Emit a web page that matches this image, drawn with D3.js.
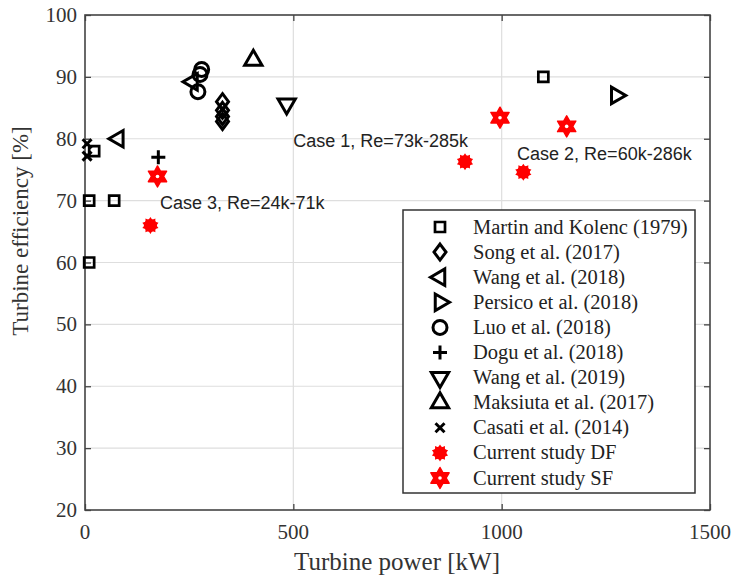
<!DOCTYPE html>
<head>
<meta charset="utf-8">
<title>Turbine efficiency vs power</title>
<style>
  body { margin: 0; background: #fff; }
  .tick-label { font: 21px "Liberation Serif", "Times New Roman", serif; fill: #333; }
  .axis-title { font: 23px "Liberation Serif", "Times New Roman", serif; fill: #333; }
  .legend-text { font: 20.5px "Liberation Serif", "Times New Roman", serif; fill: #222; }
  .note { font: 18px "Liberation Sans", Arial, sans-serif; fill: #222; }
</style>
</head>
<body>
<div id="chart"></div>
<script src="https://d3js.org/d3.v7.min.js"></script>
<script>

  // data: [power kW, efficiency %]
  var martin   = [[10, 60], [10, 70], [70, 70], [22, 78], [1100, 90]];
  var song     = [[330, 86], [330, 84.6], [330, 83.6], [330, 82.8]];
  var wang2018 = [[80, 80], [258, 89.2]];
  var persico  = [[1275, 87]];
  var luo      = [[280, 91.2], [276, 90.4], [271, 87.6]];
  var dogu     = [[176, 77]];
  var wang2019 = [[484, 85.6]];
  var maksiuta = [[404, 92.7]];
  var casati   = [[5, 79.2], [5, 77.2]];
  var currentDF = [[157, 66], [912, 76.3], [1052, 74.6]];
  var currentSF = [[174, 73.9], [996, 83.4], [1156, 82]];

  var xTicks = [0, 500, 1000, 1500];
  var yTicks = [20, 30, 40, 50, 60, 70, 80, 90, 100];

  var notes = [
    {text: "Case 1, Re=73k-285k", x: 500, y: 78.7},
    {text: "Case 2, Re=60k-286k", x: 1037, y: 76.6},
    {text: "Case 3, Re=24k-71k",  x: 180, y: 68.6}
  ];

  var width = 737, height = 577;
  var plotL = 85, plotR = 710, plotT = 15, plotB = 510;

  var x = d3.scaleLinear().domain([0, 1500]).range([plotL, plotR]);
  var y = d3.scaleLinear().domain([20, 100]).range([plotB, plotT]);

  var svg = d3.select("#chart").append("svg")
      .attr("width", width)
      .attr("height", height);

  //	Grid

  svg.append("g").selectAll("line")
      .data(xTicks.slice(1, -1))
      .enter().append("line")
      .attr("x1", function(d) { return x(d); })
      .attr("x2", function(d) { return x(d); })
      .attr("y1", plotT).attr("y2", plotB)
      .attr("stroke", "#dedede").attr("stroke-width", 1.2);

  svg.append("g").selectAll("line")
      .data(yTicks.slice(1, -1))
      .enter().append("line")
      .attr("y1", function(d) { return y(d); })
      .attr("y2", function(d) { return y(d); })
      .attr("x1", plotL).attr("x2", plotR)
      .attr("stroke", "#dedede").attr("stroke-width", 1.2);

  //	Axes (MATLAB box style, ticks pointing in on every side)

  var tk = 6;
  var axisColor = "#444";
  function tidy(g) {
    g.select(".domain").remove();
    g.selectAll("line").attr("stroke", axisColor).attr("stroke-width", 1.3);
  }
  svg.append("g").attr("transform", "translate(0," + plotB + ")")
      .call(d3.axisBottom(x).tickValues(xTicks).tickSize(-tk).tickFormat("")).call(tidy);
  svg.append("g").attr("transform", "translate(0," + plotT + ")")
      .call(d3.axisTop(x).tickValues(xTicks).tickSize(-tk).tickFormat("")).call(tidy);
  svg.append("g").attr("transform", "translate(" + plotL + ",0)")
      .call(d3.axisLeft(y).tickValues(yTicks).tickSize(-tk).tickFormat("")).call(tidy);
  svg.append("g").attr("transform", "translate(" + plotR + ",0)")
      .call(d3.axisRight(y).tickValues(yTicks).tickSize(-tk).tickFormat("")).call(tidy);

  svg.append("rect")
      .attr("x", plotL).attr("y", plotT)
      .attr("width", plotR - plotL).attr("height", plotB - plotT)
      .attr("fill", "none").attr("stroke", axisColor).attr("stroke-width", 1.6);

  svg.append("g").selectAll("text")
      .data(xTicks)
      .enter().append("text")
      .attr("class", "tick-label")
      .attr("x", function(d) { return x(d); })
      .attr("y", plotB + 29)
      .attr("text-anchor", "middle")
      .text(function(d) { return d; });

  svg.append("g").selectAll("text")
      .data(yTicks)
      .enter().append("text")
      .attr("class", "tick-label")
      .attr("x", plotL - 8)
      .attr("y", function(d) { return y(d) + 7; })
      .attr("text-anchor", "end")
      .text(function(d) { return d; });

  svg.append("text")
      .attr("class", "axis-title")
      .style("font-size", "25px")
      .attr("x", 397).attr("y", 570)
      .attr("text-anchor", "middle")
      .text("Turbine power [kW]");

  svg.append("text")
      .attr("class", "axis-title")
      .attr("transform", "translate(28,231) rotate(-90)")
      .attr("text-anchor", "middle")
      .text("Turbine efficiency [%]");

  //	Marker shapes

  function tri(s, ang) {
    var pts = [0, 120, 240].map(function(a) {
      var r = (a + ang) * Math.PI / 180;
      return [s * Math.cos(r), s * Math.sin(r)];
    });
    return "M" + pts.join("L") + "Z";
  }

  function star(n, ro, ri) {
    var pts = [];
    for (var i = 0; i < 2 * n; i++) {
      var r = i % 2 ? ri : ro, a = Math.PI * i / n - Math.PI / 2;
      pts.push([r * Math.cos(a), r * Math.sin(a)]);
    }
    return "M" + pts.join("L") + "Z";
  }

  function outline(g, d) {
    return g.append("path").attr("d", d)
        .attr("fill", "none").attr("stroke", "#000").attr("stroke-width", 3);
  }

  var markers = {
    square:   function(g) { outline(g, "M-5,-5H5V5H-5Z").attr("stroke-width", 2.7); },
    diamond:  function(g) { outline(g, "M0,-8L6,0L0,8L-6,0Z"); },
    left:     function(g) { outline(g, tri(9.5, 180)); },
    right:    function(g) { outline(g, tri(9.5, 0)); },
    circle:   function(g) { outline(g, d3.symbol(d3.symbolCircle, 154)()); },
    plus:     function(g) { outline(g, "M-7,0H7M0,-7V7"); },
    down:     function(g) { outline(g, tri(10, 90)); },
    up:       function(g) { outline(g, tri(10, -90)); },
    cross:    function(g) { outline(g, "M-4.5,-4.5L4.5,4.5M-4.5,4.5L4.5,-4.5"); },
    asterisk: function(g) { g.append("path").attr("d", star(10, 8.5, 6)).attr("fill", "#ff0000");
                            g.append("circle").attr("r", 6.5).attr("fill", "#ff0000"); },
    hexagram: function(g) { g.append("path").attr("d", star(6, 10.5, 6)).attr("fill", "#ff0000")
                               .attr("stroke", "#ff0000").attr("stroke-width", 1.5).attr("stroke-linejoin", "round");
                            g.append("circle").attr("r", 1.8).attr("fill", "#fff"); }
  };

  var series = [
    {name: "Martin and Kolenc (1979)", data: martin,    marker: "square"},
    {name: "Song et al. (2017)",       data: song,      marker: "diamond"},
    {name: "Wang et al. (2018)",       data: wang2018,  marker: "left"},
    {name: "Persico et al. (2018)",    data: persico,   marker: "right"},
    {name: "Luo et al. (2018)",        data: luo,       marker: "circle"},
    {name: "Dogu et al. (2018)",       data: dogu,      marker: "plus"},
    {name: "Wang et al. (2019)",       data: wang2019,  marker: "down"},
    {name: "Maksiuta et al. (2017)",   data: maksiuta,  marker: "up"},
    {name: "Casati et al. (2014)",     data: casati,    marker: "cross"},
    {name: "Current study DF",         data: currentDF, marker: "asterisk"},
    {name: "Current study SF",         data: currentSF, marker: "hexagram"}
  ];

  //	Points

  series.forEach(function(s) {
    svg.append("g").selectAll("g")
        .data(s.data)
        .enter().append("g")
        .attr("transform", function(d) { return "translate(" + x(d[0]) + "," + y(d[1]) + ")"; })
        .each(function() { markers[s.marker](d3.select(this)); });
  });

  //	Annotations

  svg.append("g").selectAll("text")
      .data(notes)
      .enter().append("text")
      .attr("class", "note")
      .attr("x", function(d) { return x(d.x); })
      .attr("y", function(d) { return y(d.y); })
      .text(function(d) { return d.text; });

  //	Legend

  var lg = svg.append("g");
  lg.append("rect")
      .attr("x", 403).attr("y", 210)
      .attr("width", 292).attr("height", 283)
      .attr("fill", "#fff").attr("stroke", "#333").attr("stroke-width", 1.5);

  var rows = lg.selectAll("g.row")
      .data(series)
      .enter().append("g")
      .attr("class", "row")
      .attr("transform", function(d, i) { return "translate(440," + (227 + i * 25.1) + ")"; });

  rows.each(function(d) { markers[d.marker](d3.select(this)); });

  rows.append("text")
      .attr("class", "legend-text")
      .attr("x", 33)
      .attr("y", 6.5)
      .text(function(d) { return d.name; });
</script>
</body>
